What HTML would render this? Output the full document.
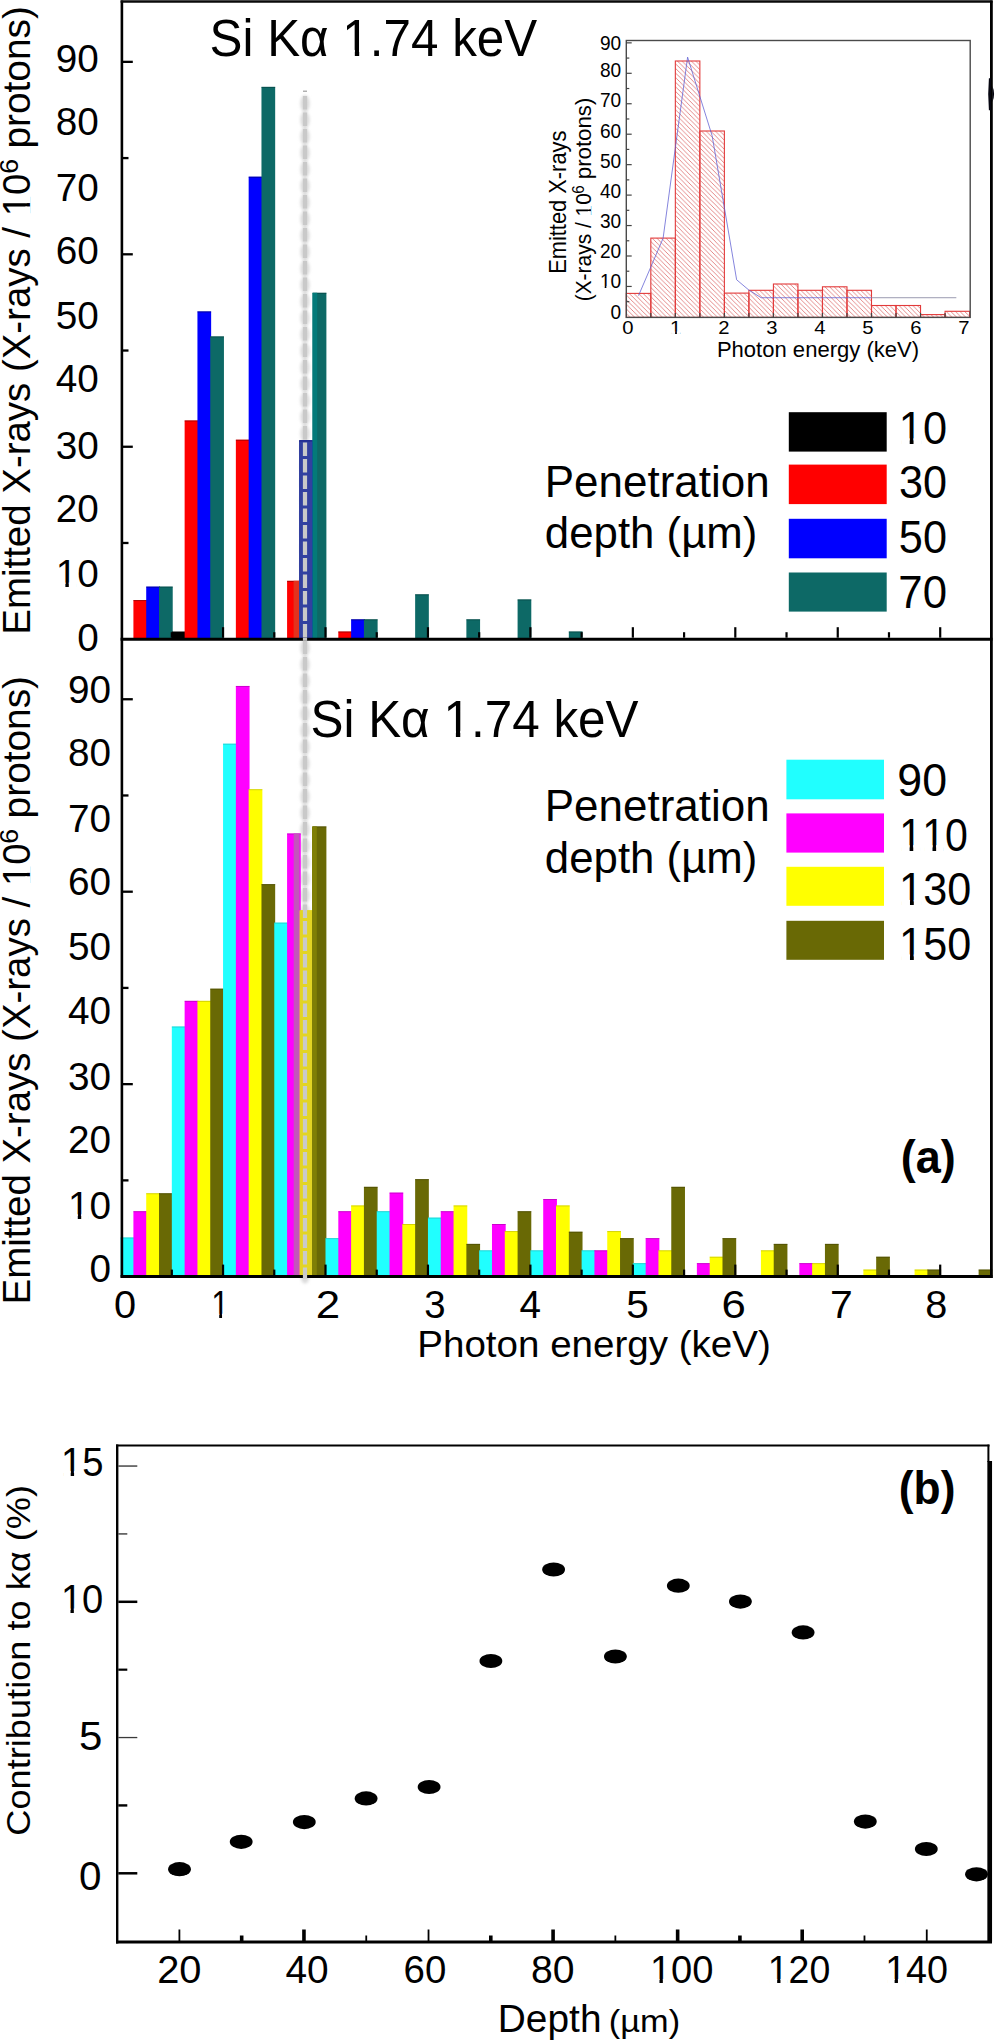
<!DOCTYPE html>
<html><head><meta charset="utf-8"><style>
html,body{margin:0;padding:0;background:#fff;}
svg{display:block;font-family:"Liberation Sans",sans-serif;font-kerning:none;font-variant-ligatures:none;}
</style></head><body>
<svg width="1000" height="2040" viewBox="0 0 1000 2040">
<defs>
<filter id="blur1" filterUnits="userSpaceOnUse" x="280" y="60" width="50" height="1250"><feGaussianBlur stdDeviation="1.4"/></filter>
<pattern id="hatch" patternUnits="userSpaceOnUse" width="4.6" height="4.6">
<path d="M-1,-1 L5.6,5.6 M-1,3.6 L1,5.6 M3.6,-1 L5.6,1" stroke="#de6c6c" stroke-width="0.8"/>
</pattern>
</defs>
<rect width="1000" height="2040" fill="#fff"/>
<g fill="#dadada" filter="url(#blur1)"><ellipse cx="305.0" cy="103.50" rx="4.6" ry="8.6"/><ellipse cx="305.0" cy="120.00" rx="4.6" ry="8.6"/><ellipse cx="305.0" cy="136.50" rx="4.6" ry="8.6"/><ellipse cx="305.0" cy="153.00" rx="4.6" ry="8.6"/><ellipse cx="305.0" cy="169.50" rx="4.6" ry="8.6"/><ellipse cx="305.0" cy="186.00" rx="4.6" ry="8.6"/><ellipse cx="305.0" cy="202.50" rx="4.6" ry="8.6"/><ellipse cx="305.0" cy="219.00" rx="4.6" ry="8.6"/><ellipse cx="305.0" cy="235.50" rx="4.6" ry="8.6"/><ellipse cx="305.0" cy="252.00" rx="4.6" ry="8.6"/><ellipse cx="305.0" cy="268.50" rx="4.6" ry="8.6"/><ellipse cx="305.0" cy="285.00" rx="4.6" ry="8.6"/><ellipse cx="305.0" cy="301.50" rx="4.6" ry="8.6"/><ellipse cx="305.0" cy="318.00" rx="4.6" ry="8.6"/><ellipse cx="305.0" cy="334.50" rx="4.6" ry="8.6"/><ellipse cx="305.0" cy="351.00" rx="4.6" ry="8.6"/><ellipse cx="305.0" cy="367.50" rx="4.6" ry="8.6"/><ellipse cx="305.0" cy="384.00" rx="4.6" ry="8.6"/><ellipse cx="305.0" cy="400.50" rx="4.6" ry="8.6"/><ellipse cx="305.0" cy="417.00" rx="4.6" ry="8.6"/><ellipse cx="305.0" cy="433.50" rx="4.6" ry="8.6"/><ellipse cx="305.0" cy="450.00" rx="4.6" ry="8.6"/><ellipse cx="305.0" cy="466.50" rx="4.6" ry="8.6"/><ellipse cx="305.0" cy="483.00" rx="4.6" ry="8.6"/><ellipse cx="305.0" cy="499.50" rx="4.6" ry="8.6"/><ellipse cx="305.0" cy="516.00" rx="4.6" ry="8.6"/><ellipse cx="305.0" cy="532.50" rx="4.6" ry="8.6"/><ellipse cx="305.0" cy="549.00" rx="4.6" ry="8.6"/><ellipse cx="305.0" cy="565.50" rx="4.6" ry="8.6"/><ellipse cx="305.0" cy="582.00" rx="4.6" ry="8.6"/><ellipse cx="305.0" cy="598.50" rx="4.6" ry="8.6"/><ellipse cx="305.0" cy="615.00" rx="4.6" ry="8.6"/><ellipse cx="305.0" cy="631.50" rx="4.6" ry="8.6"/><ellipse cx="305.0" cy="648.00" rx="4.6" ry="8.6"/><ellipse cx="305.0" cy="664.50" rx="4.6" ry="8.6"/><ellipse cx="305.0" cy="681.00" rx="4.6" ry="8.6"/><ellipse cx="305.0" cy="697.50" rx="4.6" ry="8.6"/><ellipse cx="305.0" cy="714.00" rx="4.6" ry="8.6"/><ellipse cx="305.0" cy="730.50" rx="4.6" ry="8.6"/><ellipse cx="305.0" cy="747.00" rx="4.6" ry="8.6"/><ellipse cx="305.0" cy="763.50" rx="4.6" ry="8.6"/><ellipse cx="305.0" cy="780.00" rx="4.6" ry="8.6"/><ellipse cx="305.0" cy="796.50" rx="4.6" ry="8.6"/><ellipse cx="305.0" cy="813.00" rx="4.6" ry="8.6"/><ellipse cx="305.0" cy="829.50" rx="4.6" ry="8.6"/><ellipse cx="305.0" cy="846.00" rx="4.6" ry="8.6"/><ellipse cx="305.0" cy="862.50" rx="4.6" ry="8.6"/><ellipse cx="305.0" cy="879.00" rx="4.6" ry="8.6"/><ellipse cx="305.0" cy="895.50" rx="4.6" ry="8.6"/><ellipse cx="305.0" cy="912.00" rx="4.6" ry="8.6"/><ellipse cx="305.0" cy="928.50" rx="4.6" ry="8.6"/><ellipse cx="305.0" cy="945.00" rx="4.6" ry="8.6"/><ellipse cx="305.0" cy="961.50" rx="4.6" ry="8.6"/><ellipse cx="305.0" cy="978.00" rx="4.6" ry="8.6"/><ellipse cx="305.0" cy="994.50" rx="4.6" ry="8.6"/><ellipse cx="305.0" cy="1011.00" rx="4.6" ry="8.6"/><ellipse cx="305.0" cy="1027.50" rx="4.6" ry="8.6"/><ellipse cx="305.0" cy="1044.00" rx="4.6" ry="8.6"/><ellipse cx="305.0" cy="1060.50" rx="4.6" ry="8.6"/><ellipse cx="305.0" cy="1077.00" rx="4.6" ry="8.6"/><ellipse cx="305.0" cy="1093.50" rx="4.6" ry="8.6"/><ellipse cx="305.0" cy="1110.00" rx="4.6" ry="8.6"/><ellipse cx="305.0" cy="1126.50" rx="4.6" ry="8.6"/><ellipse cx="305.0" cy="1143.00" rx="4.6" ry="8.6"/><ellipse cx="305.0" cy="1159.50" rx="4.6" ry="8.6"/><ellipse cx="305.0" cy="1176.00" rx="4.6" ry="8.6"/><ellipse cx="305.0" cy="1192.50" rx="4.6" ry="8.6"/><ellipse cx="305.0" cy="1209.00" rx="4.6" ry="8.6"/><ellipse cx="305.0" cy="1225.50" rx="4.6" ry="8.6"/><ellipse cx="305.0" cy="1242.00" rx="4.6" ry="8.6"/><ellipse cx="305.0" cy="1258.50" rx="4.6" ry="8.6"/><ellipse cx="305.0" cy="1275.00" rx="4.6" ry="8.6"/></g>
<rect x="133.41" y="600.07" width="13.70" height="39.13" fill="#ff0000"/>
<rect x="133.41" y="600.07" width="13.70" height="1.00" fill="#600000" opacity="0.55"/>
<rect x="146.21" y="586.60" width="13.70" height="52.60" fill="#0000ff"/>
<rect x="146.21" y="586.60" width="13.70" height="1.00" fill="#000050" opacity="0.55"/>
<rect x="159.02" y="586.60" width="13.70" height="52.60" fill="#0d6966"/>
<rect x="159.02" y="586.60" width="13.70" height="1.00" fill="#053a38" opacity="0.55"/>
<rect x="171.82" y="631.50" width="13.70" height="7.70" fill="#000000"/>
<rect x="184.63" y="420.45" width="13.70" height="218.75" fill="#ff0000"/>
<rect x="184.63" y="420.45" width="13.70" height="1.00" fill="#600000" opacity="0.55"/>
<rect x="197.44" y="311.39" width="13.70" height="327.81" fill="#0000ff"/>
<rect x="197.44" y="311.39" width="13.70" height="1.00" fill="#000050" opacity="0.55"/>
<rect x="210.24" y="336.41" width="13.70" height="302.79" fill="#0d6966"/>
<rect x="210.24" y="336.41" width="13.70" height="1.00" fill="#053a38" opacity="0.55"/>
<rect x="235.86" y="439.69" width="13.70" height="199.51" fill="#ff0000"/>
<rect x="235.86" y="439.69" width="13.70" height="1.00" fill="#600000" opacity="0.55"/>
<rect x="248.66" y="176.68" width="13.70" height="462.52" fill="#0000ff"/>
<rect x="248.66" y="176.68" width="13.70" height="1.00" fill="#000050" opacity="0.55"/>
<rect x="261.47" y="86.87" width="13.70" height="552.33" fill="#0d6966"/>
<rect x="261.47" y="86.87" width="13.70" height="1.00" fill="#053a38" opacity="0.55"/>
<rect x="287.08" y="580.82" width="13.70" height="58.38" fill="#ff0000"/>
<rect x="287.08" y="580.82" width="13.70" height="1.00" fill="#600000" opacity="0.55"/>
<rect x="299.89" y="440.34" width="13.70" height="198.87" fill="#0000ff"/>
<rect x="299.89" y="440.34" width="13.70" height="1.00" fill="#000050" opacity="0.55"/>
<rect x="312.69" y="292.79" width="13.70" height="346.41" fill="#0d6966"/>
<rect x="312.69" y="292.79" width="13.70" height="1.00" fill="#053a38" opacity="0.55"/>
<rect x="338.31" y="631.50" width="13.70" height="7.70" fill="#ff0000"/>
<rect x="338.31" y="631.50" width="13.70" height="1.00" fill="#600000" opacity="0.55"/>
<rect x="351.11" y="619.31" width="13.70" height="19.89" fill="#0000ff"/>
<rect x="351.11" y="619.31" width="13.70" height="1.00" fill="#000050" opacity="0.55"/>
<rect x="363.92" y="619.31" width="13.70" height="19.89" fill="#0d6966"/>
<rect x="363.92" y="619.31" width="13.70" height="1.00" fill="#053a38" opacity="0.55"/>
<rect x="415.14" y="594.30" width="13.70" height="44.90" fill="#0d6966"/>
<rect x="415.14" y="594.30" width="13.70" height="1.00" fill="#053a38" opacity="0.55"/>
<rect x="466.37" y="619.31" width="13.70" height="19.89" fill="#0d6966"/>
<rect x="466.37" y="619.31" width="13.70" height="1.00" fill="#053a38" opacity="0.55"/>
<rect x="517.59" y="599.43" width="13.70" height="39.77" fill="#0d6966"/>
<rect x="517.59" y="599.43" width="13.70" height="1.00" fill="#053a38" opacity="0.55"/>
<rect x="568.82" y="631.50" width="13.70" height="7.70" fill="#0d6966"/>
<rect x="568.82" y="631.50" width="13.70" height="1.00" fill="#053a38" opacity="0.55"/>
<rect x="293.60" y="580.82" width="5.60" height="58.38" fill="#e2321e"/>
<rect x="299.00" y="440.34" width="13.40" height="198.87" fill="#3240a0"/>
<rect x="299.00" y="440.34" width="13.40" height="1.20" fill="#1e2a8a"/>
<rect x="312.40" y="292.79" width="4.80" height="346.41" fill="#047a79"/>
<rect x="120.60" y="1237.48" width="13.70" height="39.12" fill="#20ffff"/>
<rect x="120.60" y="1237.48" width="13.70" height="1.00" fill="#20a0a0" opacity="0.45"/>
<rect x="133.41" y="1211.19" width="13.70" height="65.41" fill="#ff00ff"/>
<rect x="133.41" y="1211.19" width="13.70" height="1.00" fill="#900090" opacity="0.45"/>
<rect x="146.21" y="1193.23" width="13.70" height="83.37" fill="#ffff00"/>
<rect x="146.21" y="1193.23" width="13.70" height="1.00" fill="#a0a000" opacity="0.45"/>
<rect x="159.02" y="1193.23" width="13.70" height="83.37" fill="#696905"/>
<rect x="159.02" y="1193.23" width="13.70" height="1.00" fill="#383800" opacity="0.45"/>
<rect x="171.82" y="1026.49" width="13.70" height="250.11" fill="#20ffff"/>
<rect x="171.82" y="1026.49" width="13.70" height="1.00" fill="#20a0a0" opacity="0.45"/>
<rect x="184.63" y="1000.84" width="13.70" height="275.76" fill="#ff00ff"/>
<rect x="184.63" y="1000.84" width="13.70" height="1.00" fill="#900090" opacity="0.45"/>
<rect x="197.44" y="1000.84" width="13.70" height="275.76" fill="#ffff00"/>
<rect x="197.44" y="1000.84" width="13.70" height="1.00" fill="#a0a000" opacity="0.45"/>
<rect x="210.24" y="988.66" width="13.70" height="287.94" fill="#696905"/>
<rect x="210.24" y="988.66" width="13.70" height="1.00" fill="#383800" opacity="0.45"/>
<rect x="223.05" y="743.68" width="13.70" height="532.92" fill="#20ffff"/>
<rect x="223.05" y="743.68" width="13.70" height="1.00" fill="#20a0a0" opacity="0.45"/>
<rect x="235.86" y="685.96" width="13.70" height="590.64" fill="#ff00ff"/>
<rect x="235.86" y="685.96" width="13.70" height="1.00" fill="#900090" opacity="0.45"/>
<rect x="248.66" y="789.21" width="13.70" height="487.39" fill="#ffff00"/>
<rect x="248.66" y="789.21" width="13.70" height="1.00" fill="#a0a000" opacity="0.45"/>
<rect x="261.47" y="884.12" width="13.70" height="392.48" fill="#696905"/>
<rect x="261.47" y="884.12" width="13.70" height="1.00" fill="#383800" opacity="0.45"/>
<rect x="274.27" y="922.60" width="13.70" height="354.00" fill="#20ffff"/>
<rect x="274.27" y="922.60" width="13.70" height="1.00" fill="#20a0a0" opacity="0.45"/>
<rect x="287.08" y="833.46" width="13.70" height="443.14" fill="#ff00ff"/>
<rect x="287.08" y="833.46" width="13.70" height="1.00" fill="#900090" opacity="0.45"/>
<rect x="299.89" y="910.42" width="13.70" height="366.18" fill="#ffff00"/>
<rect x="299.89" y="910.42" width="13.70" height="1.00" fill="#a0a000" opacity="0.45"/>
<rect x="312.69" y="826.41" width="13.70" height="450.19" fill="#696905"/>
<rect x="312.69" y="826.41" width="13.70" height="1.00" fill="#383800" opacity="0.45"/>
<rect x="325.50" y="1238.12" width="13.70" height="38.48" fill="#20ffff"/>
<rect x="325.50" y="1238.12" width="13.70" height="1.00" fill="#20a0a0" opacity="0.45"/>
<rect x="338.31" y="1211.19" width="13.70" height="65.41" fill="#ff00ff"/>
<rect x="338.31" y="1211.19" width="13.70" height="1.00" fill="#900090" opacity="0.45"/>
<rect x="351.11" y="1205.42" width="13.70" height="71.18" fill="#ffff00"/>
<rect x="351.11" y="1205.42" width="13.70" height="1.00" fill="#a0a000" opacity="0.45"/>
<rect x="363.92" y="1186.82" width="13.70" height="89.78" fill="#696905"/>
<rect x="363.92" y="1186.82" width="13.70" height="1.00" fill="#383800" opacity="0.45"/>
<rect x="376.73" y="1211.19" width="13.70" height="65.41" fill="#20ffff"/>
<rect x="376.73" y="1211.19" width="13.70" height="1.00" fill="#20a0a0" opacity="0.45"/>
<rect x="389.53" y="1192.59" width="13.70" height="84.01" fill="#ff00ff"/>
<rect x="389.53" y="1192.59" width="13.70" height="1.00" fill="#900090" opacity="0.45"/>
<rect x="402.34" y="1224.01" width="13.70" height="52.59" fill="#ffff00"/>
<rect x="402.34" y="1224.01" width="13.70" height="1.00" fill="#a0a000" opacity="0.45"/>
<rect x="415.14" y="1179.12" width="13.70" height="97.48" fill="#696905"/>
<rect x="415.14" y="1179.12" width="13.70" height="1.00" fill="#383800" opacity="0.45"/>
<rect x="427.95" y="1217.60" width="13.70" height="59.00" fill="#20ffff"/>
<rect x="427.95" y="1217.60" width="13.70" height="1.00" fill="#20a0a0" opacity="0.45"/>
<rect x="440.76" y="1211.19" width="13.70" height="65.41" fill="#ff00ff"/>
<rect x="440.76" y="1211.19" width="13.70" height="1.00" fill="#900090" opacity="0.45"/>
<rect x="453.56" y="1205.42" width="13.70" height="71.18" fill="#ffff00"/>
<rect x="453.56" y="1205.42" width="13.70" height="1.00" fill="#a0a000" opacity="0.45"/>
<rect x="466.37" y="1243.89" width="13.70" height="32.71" fill="#696905"/>
<rect x="466.37" y="1243.89" width="13.70" height="1.00" fill="#383800" opacity="0.45"/>
<rect x="479.17" y="1250.31" width="13.70" height="26.29" fill="#20ffff"/>
<rect x="479.17" y="1250.31" width="13.70" height="1.00" fill="#20a0a0" opacity="0.45"/>
<rect x="491.98" y="1224.01" width="13.70" height="52.59" fill="#ff00ff"/>
<rect x="491.98" y="1224.01" width="13.70" height="1.00" fill="#900090" opacity="0.45"/>
<rect x="504.79" y="1231.07" width="13.70" height="45.53" fill="#ffff00"/>
<rect x="504.79" y="1231.07" width="13.70" height="1.00" fill="#a0a000" opacity="0.45"/>
<rect x="517.59" y="1211.19" width="13.70" height="65.41" fill="#696905"/>
<rect x="517.59" y="1211.19" width="13.70" height="1.00" fill="#383800" opacity="0.45"/>
<rect x="530.40" y="1250.31" width="13.70" height="26.29" fill="#20ffff"/>
<rect x="530.40" y="1250.31" width="13.70" height="1.00" fill="#20a0a0" opacity="0.45"/>
<rect x="543.21" y="1199.00" width="13.70" height="77.60" fill="#ff00ff"/>
<rect x="543.21" y="1199.00" width="13.70" height="1.00" fill="#900090" opacity="0.45"/>
<rect x="556.01" y="1205.42" width="13.70" height="71.18" fill="#ffff00"/>
<rect x="556.01" y="1205.42" width="13.70" height="1.00" fill="#a0a000" opacity="0.45"/>
<rect x="568.82" y="1231.71" width="13.70" height="44.89" fill="#696905"/>
<rect x="568.82" y="1231.71" width="13.70" height="1.00" fill="#383800" opacity="0.45"/>
<rect x="581.62" y="1250.31" width="13.70" height="26.29" fill="#20ffff"/>
<rect x="581.62" y="1250.31" width="13.70" height="1.00" fill="#20a0a0" opacity="0.45"/>
<rect x="594.43" y="1250.31" width="13.70" height="26.29" fill="#ff00ff"/>
<rect x="594.43" y="1250.31" width="13.70" height="1.00" fill="#900090" opacity="0.45"/>
<rect x="607.24" y="1231.07" width="13.70" height="45.53" fill="#ffff00"/>
<rect x="607.24" y="1231.07" width="13.70" height="1.00" fill="#a0a000" opacity="0.45"/>
<rect x="620.04" y="1238.12" width="13.70" height="38.48" fill="#696905"/>
<rect x="620.04" y="1238.12" width="13.70" height="1.00" fill="#383800" opacity="0.45"/>
<rect x="632.85" y="1263.13" width="13.70" height="13.47" fill="#20ffff"/>
<rect x="632.85" y="1263.13" width="13.70" height="1.00" fill="#20a0a0" opacity="0.45"/>
<rect x="645.66" y="1238.12" width="13.70" height="38.48" fill="#ff00ff"/>
<rect x="645.66" y="1238.12" width="13.70" height="1.00" fill="#900090" opacity="0.45"/>
<rect x="658.46" y="1250.31" width="13.70" height="26.29" fill="#ffff00"/>
<rect x="658.46" y="1250.31" width="13.70" height="1.00" fill="#a0a000" opacity="0.45"/>
<rect x="671.27" y="1186.82" width="13.70" height="89.78" fill="#696905"/>
<rect x="671.27" y="1186.82" width="13.70" height="1.00" fill="#383800" opacity="0.45"/>
<rect x="696.88" y="1263.13" width="13.70" height="13.47" fill="#ff00ff"/>
<rect x="696.88" y="1263.13" width="13.70" height="1.00" fill="#900090" opacity="0.45"/>
<rect x="709.69" y="1256.72" width="13.70" height="19.88" fill="#ffff00"/>
<rect x="709.69" y="1256.72" width="13.70" height="1.00" fill="#a0a000" opacity="0.45"/>
<rect x="722.49" y="1238.12" width="13.70" height="38.48" fill="#696905"/>
<rect x="722.49" y="1238.12" width="13.70" height="1.00" fill="#383800" opacity="0.45"/>
<rect x="760.91" y="1250.31" width="13.70" height="26.29" fill="#ffff00"/>
<rect x="760.91" y="1250.31" width="13.70" height="1.00" fill="#a0a000" opacity="0.45"/>
<rect x="773.72" y="1243.89" width="13.70" height="32.71" fill="#696905"/>
<rect x="773.72" y="1243.89" width="13.70" height="1.00" fill="#383800" opacity="0.45"/>
<rect x="799.33" y="1263.13" width="13.70" height="13.47" fill="#ff00ff"/>
<rect x="799.33" y="1263.13" width="13.70" height="1.00" fill="#900090" opacity="0.45"/>
<rect x="812.14" y="1263.13" width="13.70" height="13.47" fill="#ffff00"/>
<rect x="812.14" y="1263.13" width="13.70" height="1.00" fill="#a0a000" opacity="0.45"/>
<rect x="824.94" y="1243.89" width="13.70" height="32.71" fill="#696905"/>
<rect x="824.94" y="1243.89" width="13.70" height="1.00" fill="#383800" opacity="0.45"/>
<rect x="863.36" y="1269.55" width="13.70" height="7.05" fill="#ffff00"/>
<rect x="863.36" y="1269.55" width="13.70" height="1.00" fill="#a0a000" opacity="0.45"/>
<rect x="876.17" y="1256.72" width="13.70" height="19.88" fill="#696905"/>
<rect x="876.17" y="1256.72" width="13.70" height="1.00" fill="#383800" opacity="0.45"/>
<rect x="914.59" y="1269.55" width="13.70" height="7.05" fill="#ffff00"/>
<rect x="914.59" y="1269.55" width="13.70" height="1.00" fill="#a0a000" opacity="0.45"/>
<rect x="927.39" y="1269.55" width="13.70" height="7.05" fill="#696905"/>
<rect x="927.39" y="1269.55" width="13.70" height="1.00" fill="#383800" opacity="0.45"/>
<rect x="978.62" y="1269.55" width="13.70" height="7.05" fill="#696905"/>
<rect x="978.62" y="1269.55" width="13.70" height="1.00" fill="#383800" opacity="0.45"/>
<rect x="293.70" y="833.46" width="5.80" height="443.14" fill="#c454bc"/>
<rect x="299.50" y="910.42" width="12.50" height="366.18" fill="#e2d424"/>
<rect x="312.00" y="826.41" width="4.80" height="450.19" fill="#7f7f06"/>
<line x1="305.0" y1="96" x2="305.0" y2="1279" stroke="#c9c9c9" stroke-width="4.2" stroke-dasharray="13.5 3"/>
<line x1="305.0" y1="90.5" x2="305.0" y2="92" stroke="#b0b0b0" stroke-width="4"/>
<line x1="121.90" y1="0.50" x2="121.90" y2="1277.80" stroke="#000" stroke-width="2.6"/>
<line x1="120.60" y1="1.55" x2="992.50" y2="1.55" stroke="#0a0a0a" stroke-width="2.5"/>
<line x1="991.40" y1="0.60" x2="991.40" y2="1278.00" stroke="#000" stroke-width="2.8"/>
<line x1="120.60" y1="639.20" x2="992.50" y2="639.20" stroke="#000" stroke-width="3.0"/>
<line x1="120.60" y1="1276.60" x2="992.50" y2="1276.60" stroke="#000" stroke-width="3.0"/>
<rect x="302.9" y="637.6" width="4.2" height="3.2" fill="#c6c6c6"/>
<rect x="302.9" y="1275" width="4.2" height="4" fill="#cfcfcf"/>
<line x1="121.90" y1="542.98" x2="128.50" y2="542.98" stroke="#000" stroke-width="2.3"/>
<line x1="121.90" y1="446.75" x2="132.80" y2="446.75" stroke="#000" stroke-width="2.3"/>
<line x1="121.90" y1="350.53" x2="128.50" y2="350.53" stroke="#000" stroke-width="2.3"/>
<line x1="121.90" y1="254.30" x2="132.80" y2="254.30" stroke="#000" stroke-width="2.3"/>
<line x1="121.90" y1="158.08" x2="128.50" y2="158.08" stroke="#000" stroke-width="2.3"/>
<line x1="121.90" y1="61.85" x2="132.80" y2="61.85" stroke="#000" stroke-width="2.3"/>
<line x1="121.90" y1="1180.38" x2="128.50" y2="1180.38" stroke="#000" stroke-width="2.3"/>
<line x1="121.90" y1="1084.15" x2="132.80" y2="1084.15" stroke="#000" stroke-width="2.3"/>
<line x1="121.90" y1="987.92" x2="128.50" y2="987.92" stroke="#000" stroke-width="2.3"/>
<line x1="121.90" y1="891.70" x2="132.80" y2="891.70" stroke="#000" stroke-width="2.3"/>
<line x1="121.90" y1="795.47" x2="128.50" y2="795.47" stroke="#000" stroke-width="2.3"/>
<line x1="121.90" y1="699.25" x2="132.80" y2="699.25" stroke="#000" stroke-width="2.3"/>
<line x1="171.82" y1="637.70" x2="171.82" y2="632.20" stroke="#000" stroke-width="2.2"/>
<line x1="223.05" y1="637.70" x2="223.05" y2="627.20" stroke="#000" stroke-width="2.2"/>
<line x1="274.27" y1="637.70" x2="274.27" y2="632.20" stroke="#000" stroke-width="2.2"/>
<line x1="325.50" y1="637.70" x2="325.50" y2="627.20" stroke="#000" stroke-width="2.2"/>
<line x1="376.73" y1="637.70" x2="376.73" y2="632.20" stroke="#000" stroke-width="2.2"/>
<line x1="427.95" y1="637.70" x2="427.95" y2="627.20" stroke="#000" stroke-width="2.2"/>
<line x1="479.17" y1="637.70" x2="479.17" y2="632.20" stroke="#000" stroke-width="2.2"/>
<line x1="530.40" y1="637.70" x2="530.40" y2="627.20" stroke="#000" stroke-width="2.2"/>
<line x1="581.62" y1="637.70" x2="581.62" y2="632.20" stroke="#000" stroke-width="2.2"/>
<line x1="632.85" y1="637.70" x2="632.85" y2="627.20" stroke="#000" stroke-width="2.2"/>
<line x1="684.08" y1="637.70" x2="684.08" y2="632.20" stroke="#000" stroke-width="2.2"/>
<line x1="735.30" y1="637.70" x2="735.30" y2="627.20" stroke="#000" stroke-width="2.2"/>
<line x1="786.53" y1="637.70" x2="786.53" y2="632.20" stroke="#000" stroke-width="2.2"/>
<line x1="837.75" y1="637.70" x2="837.75" y2="627.20" stroke="#000" stroke-width="2.2"/>
<line x1="888.98" y1="637.70" x2="888.98" y2="632.20" stroke="#000" stroke-width="2.2"/>
<line x1="940.20" y1="637.70" x2="940.20" y2="627.20" stroke="#000" stroke-width="2.2"/>
<line x1="171.82" y1="1275.10" x2="171.82" y2="1269.60" stroke="#000" stroke-width="2.2"/>
<line x1="223.05" y1="1275.10" x2="223.05" y2="1264.60" stroke="#000" stroke-width="2.2"/>
<line x1="274.27" y1="1275.10" x2="274.27" y2="1269.60" stroke="#000" stroke-width="2.2"/>
<line x1="325.50" y1="1275.10" x2="325.50" y2="1264.60" stroke="#000" stroke-width="2.2"/>
<line x1="376.73" y1="1275.10" x2="376.73" y2="1269.60" stroke="#000" stroke-width="2.2"/>
<line x1="427.95" y1="1275.10" x2="427.95" y2="1264.60" stroke="#000" stroke-width="2.2"/>
<line x1="479.17" y1="1275.10" x2="479.17" y2="1269.60" stroke="#000" stroke-width="2.2"/>
<line x1="530.40" y1="1275.10" x2="530.40" y2="1264.60" stroke="#000" stroke-width="2.2"/>
<line x1="581.62" y1="1275.10" x2="581.62" y2="1269.60" stroke="#000" stroke-width="2.2"/>
<line x1="632.85" y1="1275.10" x2="632.85" y2="1264.60" stroke="#000" stroke-width="2.2"/>
<line x1="684.08" y1="1275.10" x2="684.08" y2="1269.60" stroke="#000" stroke-width="2.2"/>
<line x1="735.30" y1="1275.10" x2="735.30" y2="1264.60" stroke="#000" stroke-width="2.2"/>
<line x1="786.53" y1="1275.10" x2="786.53" y2="1269.60" stroke="#000" stroke-width="2.2"/>
<line x1="837.75" y1="1275.10" x2="837.75" y2="1264.60" stroke="#000" stroke-width="2.2"/>
<line x1="888.98" y1="1275.10" x2="888.98" y2="1269.60" stroke="#000" stroke-width="2.2"/>
<line x1="940.20" y1="1275.10" x2="940.20" y2="1264.60" stroke="#000" stroke-width="2.2"/>
<g transform="translate(55.65,71.50) scale(0.9800,1.0000)"><text font-size="39.5" fill="#000">90</text></g>
<g transform="translate(68.05,703.10) scale(0.9800,1.0000)"><text font-size="39.5" fill="#000">90</text></g>
<g transform="translate(55.65,135.10) scale(0.9800,1.0000)"><text font-size="39.5" fill="#000">80</text></g>
<g transform="translate(68.05,766.20) scale(0.9800,1.0000)"><text font-size="39.5" fill="#000">80</text></g>
<g transform="translate(55.65,200.60) scale(0.9800,1.0000)"><text font-size="39.5" fill="#000">70</text></g>
<g transform="translate(68.05,832.10) scale(0.9800,1.0000)"><text font-size="39.5" fill="#000">70</text></g>
<g transform="translate(55.65,263.60) scale(0.9800,1.0000)"><text font-size="39.5" fill="#000">60</text></g>
<g transform="translate(68.05,895.20) scale(0.9800,1.0000)"><text font-size="39.5" fill="#000">60</text></g>
<g transform="translate(55.65,328.60) scale(0.9800,1.0000)"><text font-size="39.5" fill="#000">50</text></g>
<g transform="translate(68.05,960.30) scale(0.9800,1.0000)"><text font-size="39.5" fill="#000">50</text></g>
<g transform="translate(55.65,392.40) scale(0.9800,1.0000)"><text font-size="39.5" fill="#000">40</text></g>
<g transform="translate(68.05,1024.00) scale(0.9800,1.0000)"><text font-size="39.5" fill="#000">40</text></g>
<g transform="translate(55.65,458.60) scale(0.9800,1.0000)"><text font-size="39.5" fill="#000">30</text></g>
<g transform="translate(68.05,1090.20) scale(0.9800,1.0000)"><text font-size="39.5" fill="#000">30</text></g>
<g transform="translate(55.65,521.80) scale(0.9800,1.0000)"><text font-size="39.5" fill="#000">20</text></g>
<g transform="translate(68.05,1153.10) scale(0.9800,1.0000)"><text font-size="39.5" fill="#000">20</text></g>
<g transform="translate(55.65,587.10) scale(0.9800,1.0000)"><text font-size="39.5" fill="#000">10</text><rect x="2.12" y="-4.63" width="7.81" height="5.21" fill="#fff"/><rect x="13.42" y="-4.63" width="7.41" height="5.21" fill="#fff"/></g>
<g transform="translate(68.05,1218.90) scale(0.9800,1.0000)"><text font-size="39.5" fill="#000">10</text><rect x="2.12" y="-4.63" width="7.81" height="5.21" fill="#fff"/><rect x="13.42" y="-4.63" width="7.41" height="5.21" fill="#fff"/></g>
<g transform="translate(77.18,650.60) scale(0.9800,1.0000)"><text font-size="39.5" fill="#000">0</text></g>
<g transform="translate(89.58,1282.00) scale(0.9800,1.0000)"><text font-size="39.5" fill="#000">0</text></g>
<g transform="translate(209.56,55.90) scale(0.9683,1.0000)"><text font-size="51.0" fill="#000">Si Kα 1.74 keV</text><rect x="139.93" y="-5.98" width="10.09" height="6.72" fill="#fff"/><rect x="154.52" y="-5.98" width="9.56" height="6.72" fill="#fff"/></g>
<g transform="translate(310.45,736.80) scale(0.9695,1.0000)"><text font-size="51.0" fill="#000">Si Kα 1.74 keV</text><rect x="139.93" y="-5.98" width="10.09" height="6.72" fill="#fff"/><rect x="154.52" y="-5.98" width="9.56" height="6.72" fill="#fff"/></g>
<g transform="translate(30.00,634.65) rotate(-90) scale(0.9729,1.0000)"><text font-size="39.5" fill="#000">Emitted X-rays (X-rays / 10</text><rect x="432.30" y="-4.63" width="7.81" height="5.21" fill="#fff"/><rect x="443.60" y="-4.63" width="7.41" height="5.21" fill="#fff"/></g>
<g transform="translate(18.40,173.85) rotate(-90) scale(1.0253,1.0000)"><text font-size="26.0" fill="#000">6</text></g>
<g transform="translate(30.00,148.60) rotate(-90) scale(0.9835,1.0000)"><text font-size="39.5" fill="#000">protons)</text></g>
<g transform="translate(30.00,1304.45) rotate(-90) scale(0.9729,1.0000)"><text font-size="39.5" fill="#000">Emitted X-rays (X-rays / 10</text><rect x="432.30" y="-4.63" width="7.81" height="5.21" fill="#fff"/><rect x="443.60" y="-4.63" width="7.41" height="5.21" fill="#fff"/></g>
<g transform="translate(18.40,843.65) rotate(-90) scale(1.0253,1.0000)"><text font-size="26.0" fill="#000">6</text></g>
<g transform="translate(30.00,818.40) rotate(-90) scale(0.9835,1.0000)"><text font-size="39.5" fill="#000">protons)</text></g>
<g transform="translate(544.79,497.20) scale(1.0107,1.0000)"><text font-size="43.5" fill="#000">Penetration</text></g>
<g transform="translate(544.86,548.30) scale(1.0068,1.0000)"><text font-size="43.5" fill="#000">depth (µm)</text></g>
<g transform="translate(544.79,821.00) scale(1.0107,1.0000)"><text font-size="43.5" fill="#000">Penetration</text></g>
<g transform="translate(544.86,872.60) scale(1.0068,1.0000)"><text font-size="43.5" fill="#000">depth (µm)</text></g>
<rect x="788.80" y="412.20" width="97.90" height="39.40" fill="#000000"/>
<g transform="translate(898.80,443.70) scale(0.9419,1.0000)"><text font-size="46" fill="#000">10</text><rect x="2.47" y="-5.39" width="9.10" height="6.06" fill="#fff"/><rect x="15.63" y="-5.39" width="8.62" height="6.06" fill="#fff"/></g>
<rect x="788.80" y="464.60" width="97.90" height="39.50" fill="#ff0000"/>
<g transform="translate(898.96,498.30) scale(0.9387,1.0000)"><text font-size="46" fill="#000">30</text></g>
<rect x="788.80" y="518.80" width="97.90" height="39.50" fill="#0000ff"/>
<g transform="translate(898.87,553.30) scale(0.9405,1.0000)"><text font-size="46" fill="#000">50</text></g>
<rect x="788.80" y="572.50" width="97.90" height="39.10" fill="#0d6966"/>
<g transform="translate(898.36,608.20) scale(0.9508,1.0000)"><text font-size="46" fill="#000">70</text></g>
<rect x="786.40" y="759.70" width="97.60" height="39.60" fill="#20ffff"/>
<g transform="translate(897.30,796.00) scale(0.9722,1.0000)"><text font-size="46" fill="#000">90</text></g>
<rect x="786.40" y="813.40" width="97.60" height="39.20" fill="#ff00ff"/>
<g transform="translate(899.27,850.50) scale(0.8944,1.0000)"><text font-size="46" fill="#000">110</text><rect x="2.47" y="-5.39" width="9.10" height="6.06" fill="#fff"/><rect x="15.63" y="-5.39" width="8.62" height="6.06" fill="#fff"/><rect x="28.05" y="-5.39" width="9.10" height="6.06" fill="#fff"/><rect x="41.22" y="-5.39" width="8.62" height="6.06" fill="#fff"/></g>
<rect x="786.40" y="866.80" width="97.60" height="39.00" fill="#ffff00"/>
<g transform="translate(899.11,905.30) scale(0.9391,1.0000)"><text font-size="46" fill="#000">130</text><rect x="2.47" y="-5.39" width="9.10" height="6.06" fill="#fff"/><rect x="15.63" y="-5.39" width="8.62" height="6.06" fill="#fff"/></g>
<rect x="786.40" y="920.80" width="97.60" height="39.00" fill="#696905"/>
<g transform="translate(899.11,959.80) scale(0.9391,1.0000)"><text font-size="46" fill="#000">150</text><rect x="2.47" y="-5.39" width="9.10" height="6.06" fill="#fff"/><rect x="15.63" y="-5.39" width="8.62" height="6.06" fill="#fff"/></g>
<g transform="translate(114.05,1318.20) scale(1.0405,1.0000)"><text font-size="38.2" fill="#000">0</text></g>
<g transform="translate(211.16,1318.20) scale(0.8379,1.0000)"><text font-size="38.2" fill="#000">1</text><rect x="2.05" y="-4.48" width="7.55" height="5.04" fill="#fff"/><rect x="12.98" y="-4.48" width="7.16" height="5.04" fill="#fff"/></g>
<g transform="translate(315.69,1318.20) scale(1.1493,1.0000)"><text font-size="38.2" fill="#000">2</text></g>
<g transform="translate(424.14,1318.20) scale(1.0049,1.0000)"><text font-size="38.2" fill="#000">3</text></g>
<g transform="translate(519.61,1318.20) scale(1.0130,1.0000)"><text font-size="38.2" fill="#000">4</text></g>
<g transform="translate(626.28,1318.20) scale(1.0601,1.0000)"><text font-size="38.2" fill="#000">5</text></g>
<g transform="translate(721.58,1318.20) scale(1.1460,1.0000)"><text font-size="38.2" fill="#000">6</text></g>
<g transform="translate(829.90,1318.20) scale(1.0711,1.0000)"><text font-size="38.2" fill="#000">7</text></g>
<g transform="translate(925.28,1318.20) scale(1.0377,1.0000)"><text font-size="38.2" fill="#000">8</text></g>
<g transform="translate(417.24,1356.70) scale(1.0204,1.0000)"><text font-size="37.8" fill="#000">Photon energy (keV)</text></g>
<g transform="translate(900.76,1173.20) scale(0.9780,1.0000)"><text font-size="46" font-weight="bold" fill="#000">(a)</text></g>
<path d="M988.9,78.2 Q987.5,94 988.9,110.2 L991,110.2 L991,78.2 Z M992.4,86.0 Q995.8,94 992.4,102.0 Z" fill="#050510"/>
<rect x="626.30" y="293.40" width="24.52" height="24.00" fill="url(#hatch)" stroke="#e23a3a" stroke-width="1.1"/>
<rect x="650.82" y="238.10" width="24.52" height="79.30" fill="url(#hatch)" stroke="#e23a3a" stroke-width="1.1"/>
<rect x="675.34" y="61.00" width="24.52" height="256.40" fill="url(#hatch)" stroke="#e23a3a" stroke-width="1.1"/>
<rect x="699.86" y="131.00" width="24.52" height="186.40" fill="url(#hatch)" stroke="#e23a3a" stroke-width="1.1"/>
<rect x="724.38" y="293.10" width="24.52" height="24.30" fill="url(#hatch)" stroke="#e23a3a" stroke-width="1.1"/>
<rect x="748.90" y="290.30" width="24.52" height="27.10" fill="url(#hatch)" stroke="#e23a3a" stroke-width="1.1"/>
<rect x="773.42" y="284.00" width="24.52" height="33.40" fill="url(#hatch)" stroke="#e23a3a" stroke-width="1.1"/>
<rect x="797.94" y="290.30" width="24.52" height="27.10" fill="url(#hatch)" stroke="#e23a3a" stroke-width="1.1"/>
<rect x="822.46" y="286.80" width="24.52" height="30.60" fill="url(#hatch)" stroke="#e23a3a" stroke-width="1.1"/>
<rect x="846.98" y="290.30" width="24.52" height="27.10" fill="url(#hatch)" stroke="#e23a3a" stroke-width="1.1"/>
<rect x="871.50" y="305.50" width="24.52" height="11.90" fill="url(#hatch)" stroke="#e23a3a" stroke-width="1.1"/>
<rect x="896.02" y="305.50" width="24.52" height="11.90" fill="url(#hatch)" stroke="#e23a3a" stroke-width="1.1"/>
<rect x="920.54" y="314.60" width="24.52" height="2.80" fill="url(#hatch)" stroke="#e23a3a" stroke-width="1.1"/>
<rect x="945.06" y="311.30" width="24.52" height="6.10" fill="url(#hatch)" stroke="#e23a3a" stroke-width="1.1"/>
<polyline points="638.56,295.58 663.08,238.34 687.60,57.16 712.12,135.72 736.64,279.75 748.90,290.10 761.16,297.72 871.50,297.72" fill="none" stroke="#5c5cd2" stroke-width="0.75"/>
<line x1="871.50" y1="297.72" x2="956.34" y2="297.72" stroke="#9a9ab0" stroke-width="1"/>
<rect x="626.30" y="40.5" width="343.90" height="276.90" fill="none" stroke="#4a4a4a" stroke-width="1.4"/>
<line x1="626.30" y1="301.67" x2="629.30" y2="301.67" stroke="#444" stroke-width="1.2"/>
<line x1="626.30" y1="286.45" x2="631.70" y2="286.45" stroke="#444" stroke-width="1.2"/>
<line x1="626.30" y1="271.22" x2="629.30" y2="271.22" stroke="#444" stroke-width="1.2"/>
<line x1="626.30" y1="256.00" x2="631.70" y2="256.00" stroke="#444" stroke-width="1.2"/>
<line x1="626.30" y1="240.77" x2="629.30" y2="240.77" stroke="#444" stroke-width="1.2"/>
<line x1="626.30" y1="225.55" x2="631.70" y2="225.55" stroke="#444" stroke-width="1.2"/>
<line x1="626.30" y1="210.32" x2="629.30" y2="210.32" stroke="#444" stroke-width="1.2"/>
<line x1="626.30" y1="195.10" x2="631.70" y2="195.10" stroke="#444" stroke-width="1.2"/>
<line x1="626.30" y1="179.87" x2="629.30" y2="179.87" stroke="#444" stroke-width="1.2"/>
<line x1="626.30" y1="164.65" x2="631.70" y2="164.65" stroke="#444" stroke-width="1.2"/>
<line x1="626.30" y1="149.42" x2="629.30" y2="149.42" stroke="#444" stroke-width="1.2"/>
<line x1="626.30" y1="134.20" x2="631.70" y2="134.20" stroke="#444" stroke-width="1.2"/>
<line x1="626.30" y1="118.97" x2="629.30" y2="118.97" stroke="#444" stroke-width="1.2"/>
<line x1="626.30" y1="103.75" x2="631.70" y2="103.75" stroke="#444" stroke-width="1.2"/>
<line x1="626.30" y1="88.52" x2="629.30" y2="88.52" stroke="#444" stroke-width="1.2"/>
<line x1="626.30" y1="73.30" x2="631.70" y2="73.30" stroke="#444" stroke-width="1.2"/>
<line x1="626.30" y1="58.07" x2="629.30" y2="58.07" stroke="#444" stroke-width="1.2"/>
<line x1="626.30" y1="42.85" x2="631.70" y2="42.85" stroke="#444" stroke-width="1.2"/>
<line x1="650.82" y1="317.40" x2="650.82" y2="312.90" stroke="#444" stroke-width="1.2"/>
<line x1="675.34" y1="317.40" x2="675.34" y2="312.90" stroke="#444" stroke-width="1.2"/>
<line x1="699.86" y1="317.40" x2="699.86" y2="312.90" stroke="#444" stroke-width="1.2"/>
<line x1="724.38" y1="317.40" x2="724.38" y2="312.90" stroke="#444" stroke-width="1.2"/>
<line x1="748.90" y1="317.40" x2="748.90" y2="312.90" stroke="#444" stroke-width="1.2"/>
<line x1="773.42" y1="317.40" x2="773.42" y2="312.90" stroke="#444" stroke-width="1.2"/>
<line x1="797.94" y1="317.40" x2="797.94" y2="312.90" stroke="#444" stroke-width="1.2"/>
<line x1="822.46" y1="317.40" x2="822.46" y2="312.90" stroke="#444" stroke-width="1.2"/>
<line x1="846.98" y1="317.40" x2="846.98" y2="312.90" stroke="#444" stroke-width="1.2"/>
<line x1="871.50" y1="317.40" x2="871.50" y2="312.90" stroke="#444" stroke-width="1.2"/>
<line x1="896.02" y1="317.40" x2="896.02" y2="312.90" stroke="#444" stroke-width="1.2"/>
<line x1="920.54" y1="317.40" x2="920.54" y2="312.90" stroke="#444" stroke-width="1.2"/>
<line x1="945.06" y1="317.40" x2="945.06" y2="312.90" stroke="#444" stroke-width="1.2"/>
<g transform="translate(610.51,318.56) scale(0.9560,1.0000)"><text font-size="20.0" fill="#000">0</text></g>
<g transform="translate(599.88,288.40) scale(0.9560,1.0000)"><text font-size="20.0" fill="#000">10</text><rect x="1.07" y="-2.34" width="3.96" height="2.64" fill="#fff"/><rect x="6.80" y="-2.34" width="3.75" height="2.64" fill="#fff"/></g>
<g transform="translate(599.88,258.24) scale(0.9560,1.0000)"><text font-size="20.0" fill="#000">20</text></g>
<g transform="translate(599.88,228.08) scale(0.9560,1.0000)"><text font-size="20.0" fill="#000">30</text></g>
<g transform="translate(599.88,197.92) scale(0.9560,1.0000)"><text font-size="20.0" fill="#000">40</text></g>
<g transform="translate(599.88,167.76) scale(0.9560,1.0000)"><text font-size="20.0" fill="#000">50</text></g>
<g transform="translate(599.88,137.60) scale(0.9560,1.0000)"><text font-size="20.0" fill="#000">60</text></g>
<g transform="translate(599.88,107.44) scale(0.9560,1.0000)"><text font-size="20.0" fill="#000">70</text></g>
<g transform="translate(599.88,77.28) scale(0.9560,1.0000)"><text font-size="20.0" fill="#000">80</text></g>
<g transform="translate(599.88,49.88) scale(0.9560,1.0000)"><text font-size="20.0" fill="#000">90</text></g>
<g transform="translate(622.27,333.70) scale(1.1000,1.0000)"><text font-size="18.4" fill="#000">0</text></g>
<g transform="translate(670.00,333.70) scale(1.1000,1.0000)"><text font-size="18.4" fill="#000">1</text><rect x="0.99" y="-2.16" width="3.64" height="2.43" fill="#fff"/><rect x="6.25" y="-2.16" width="3.45" height="2.43" fill="#fff"/></g>
<g transform="translate(718.27,333.70) scale(1.1000,1.0000)"><text font-size="18.4" fill="#000">2</text></g>
<g transform="translate(766.33,333.70) scale(1.1000,1.0000)"><text font-size="18.4" fill="#000">3</text></g>
<g transform="translate(814.34,333.70) scale(1.1000,1.0000)"><text font-size="18.4" fill="#000">4</text></g>
<g transform="translate(862.29,333.70) scale(1.1000,1.0000)"><text font-size="18.4" fill="#000">5</text></g>
<g transform="translate(910.20,333.70) scale(1.1000,1.0000)"><text font-size="18.4" fill="#000">6</text></g>
<g transform="translate(958.26,333.70) scale(1.1000,1.0000)"><text font-size="18.4" fill="#000">7</text></g>
<g transform="translate(565.90,273.79) rotate(-90) scale(0.9419,1.0000)"><text font-size="23.2" fill="#000">Emitted X-rays</text></g>
<g transform="translate(590.60,301.30) rotate(-90) scale(0.9265,1.0000)"><text font-size="22.6" fill="#000">(X-rays / 10</text><rect x="92.87" y="-2.65" width="4.47" height="2.98" fill="#fff"/><rect x="99.34" y="-2.65" width="4.24" height="2.98" fill="#fff"/></g>
<g transform="translate(583.80,193.77) rotate(-90) scale(0.9725,1.0000)"><text font-size="15.6" fill="#000">6</text></g>
<g transform="translate(590.60,179.23) rotate(-90) scale(0.9844,1.0000)"><text font-size="22.6" fill="#000">protons)</text></g>
<g transform="translate(716.89,357.10) scale(1.0258,1.0000)"><text font-size="21.5" fill="#000">Photon energy (keV)</text></g>
<line x1="117.20" y1="1444.60" x2="117.20" y2="1943.50" stroke="#000" stroke-width="2.4"/>
<line x1="116.00" y1="1445.60" x2="989.50" y2="1445.60" stroke="#000" stroke-width="2.0"/>
<line x1="988.40" y1="1444.60" x2="988.40" y2="1462.00" stroke="#000" stroke-width="2.0"/>
<line x1="989.70" y1="1461.00" x2="989.70" y2="1941.80" stroke="#000" stroke-width="4.7"/>
<line x1="116.00" y1="1942.00" x2="992.00" y2="1942.00" stroke="#000" stroke-width="3.0"/>
<line x1="118.30" y1="1466.05" x2="137.30" y2="1466.05" stroke="#3a3a3a" stroke-width="1.4"/>
<line x1="118.30" y1="1533.92" x2="127.30" y2="1533.92" stroke="#3a3a3a" stroke-width="1.4"/>
<line x1="118.30" y1="1601.80" x2="137.30" y2="1601.80" stroke="#000" stroke-width="2.5"/>
<line x1="118.30" y1="1669.67" x2="127.30" y2="1669.67" stroke="#000" stroke-width="2.2"/>
<line x1="118.30" y1="1737.55" x2="137.30" y2="1737.55" stroke="#3a3a3a" stroke-width="1.3"/>
<line x1="118.30" y1="1805.42" x2="127.30" y2="1805.42" stroke="#000" stroke-width="2.4"/>
<line x1="118.30" y1="1873.30" x2="137.30" y2="1873.30" stroke="#000" stroke-width="2.5"/>
<line x1="179.40" y1="1941.00" x2="179.40" y2="1929.50" stroke="#000" stroke-width="1.8"/>
<line x1="241.68" y1="1941.00" x2="241.68" y2="1935.50" stroke="#000" stroke-width="3.6"/>
<line x1="303.96" y1="1941.00" x2="303.96" y2="1929.50" stroke="#000" stroke-width="3.6"/>
<line x1="366.24" y1="1941.00" x2="366.24" y2="1935.50" stroke="#000" stroke-width="1.8"/>
<line x1="428.52" y1="1941.00" x2="428.52" y2="1929.50" stroke="#000" stroke-width="1.8"/>
<line x1="490.80" y1="1941.00" x2="490.80" y2="1935.50" stroke="#000" stroke-width="3.6"/>
<line x1="553.08" y1="1941.00" x2="553.08" y2="1929.50" stroke="#000" stroke-width="3.6"/>
<line x1="615.36" y1="1941.00" x2="615.36" y2="1935.50" stroke="#000" stroke-width="1.8"/>
<line x1="677.64" y1="1941.00" x2="677.64" y2="1929.50" stroke="#000" stroke-width="3.6"/>
<line x1="739.92" y1="1941.00" x2="739.92" y2="1935.50" stroke="#000" stroke-width="3.6"/>
<line x1="802.20" y1="1941.00" x2="802.20" y2="1929.50" stroke="#000" stroke-width="3.6"/>
<line x1="864.48" y1="1941.00" x2="864.48" y2="1935.50" stroke="#000" stroke-width="1.8"/>
<line x1="926.76" y1="1941.00" x2="926.76" y2="1929.50" stroke="#000" stroke-width="1.8"/>
<g transform="translate(61.09,1475.56) scale(0.9556,1.0000)"><text font-size="40" fill="#000">15</text><rect x="2.15" y="-4.69" width="7.91" height="5.27" fill="#fff"/><rect x="13.59" y="-4.69" width="7.50" height="5.27" fill="#fff"/></g>
<g transform="translate(60.90,1613.17) scale(0.9528,1.0000)"><text font-size="40" fill="#000">10</text><rect x="2.15" y="-4.69" width="7.91" height="5.27" fill="#fff"/><rect x="13.59" y="-4.69" width="7.50" height="5.27" fill="#fff"/></g>
<g transform="translate(78.92,1750.46) scale(1.0493,1.0000)"><text font-size="40" fill="#000">5</text></g>
<g transform="translate(79.02,1889.87) scale(1.0094,1.0000)"><text font-size="40" fill="#000">0</text></g>
<g transform="translate(157.19,1983.40) scale(1.0496,1.0000)"><text font-size="38" fill="#000">20</text></g>
<g transform="translate(285.51,1983.40) scale(1.0223,1.0000)"><text font-size="38" fill="#000">40</text></g>
<g transform="translate(403.55,1983.40) scale(1.0115,1.0000)"><text font-size="38" fill="#000">60</text></g>
<g transform="translate(531.00,1983.40) scale(1.0299,1.0000)"><text font-size="38" fill="#000">80</text></g>
<g transform="translate(649.90,1983.40) scale(1.0030,1.0000)"><text font-size="38" fill="#000">100</text><rect x="2.04" y="-4.45" width="7.51" height="5.01" fill="#fff"/><rect x="12.91" y="-4.45" width="7.12" height="5.01" fill="#fff"/></g>
<g transform="translate(767.75,1983.40) scale(0.9861,1.0000)"><text font-size="38" fill="#000">120</text><rect x="2.04" y="-4.45" width="7.51" height="5.01" fill="#fff"/><rect x="12.91" y="-4.45" width="7.12" height="5.01" fill="#fff"/></g>
<g transform="translate(885.13,1983.40) scale(0.9928,1.0000)"><text font-size="38" fill="#000">140</text><rect x="2.04" y="-4.45" width="7.51" height="5.01" fill="#fff"/><rect x="12.91" y="-4.45" width="7.12" height="5.01" fill="#fff"/></g>
<g transform="translate(497.81,2032.40) scale(0.9966,1.0000)"><text font-size="39" fill="#000">Depth</text></g>
<g transform="translate(608.87,2032.40) scale(1.0731,1.0000)"><text font-size="32" fill="#000">(µm)</text></g>
<g transform="translate(30.00,1835.64) rotate(-90) scale(1.0800,1.0000)"><text font-size="33.5" fill="#000">Contribution to kα (%)</text></g>
<g transform="translate(898.79,1504.00) scale(0.9703,1.0000)"><text font-size="45.7" font-weight="bold" fill="#000">(b)</text></g>
<ellipse cx="179.5" cy="1869.2" rx="11.4" ry="7.1" fill="#000"/>
<ellipse cx="241.2" cy="1841.8" rx="11.4" ry="7.1" fill="#000"/>
<ellipse cx="304.3" cy="1822.1" rx="11.4" ry="7.1" fill="#000"/>
<ellipse cx="366.1" cy="1798.4" rx="11.4" ry="7.1" fill="#000"/>
<ellipse cx="429.1" cy="1787.0" rx="11.4" ry="7.1" fill="#000"/>
<ellipse cx="490.9" cy="1661.0" rx="11.4" ry="7.1" fill="#000"/>
<ellipse cx="553.6" cy="1569.5" rx="11.4" ry="7.1" fill="#000"/>
<ellipse cx="615.4" cy="1656.5" rx="11.4" ry="7.1" fill="#000"/>
<ellipse cx="678.3" cy="1585.7" rx="11.4" ry="7.1" fill="#000"/>
<ellipse cx="740.4" cy="1601.6" rx="11.4" ry="7.1" fill="#000"/>
<ellipse cx="803.1" cy="1632.4" rx="11.4" ry="7.1" fill="#000"/>
<ellipse cx="865.3" cy="1821.6" rx="11.4" ry="7.1" fill="#000"/>
<ellipse cx="926.3" cy="1849.0" rx="11.4" ry="7.1" fill="#000"/>
<ellipse cx="976.5" cy="1874.3" rx="11.4" ry="7.1" fill="#000"/>
</svg>
</body></html>
